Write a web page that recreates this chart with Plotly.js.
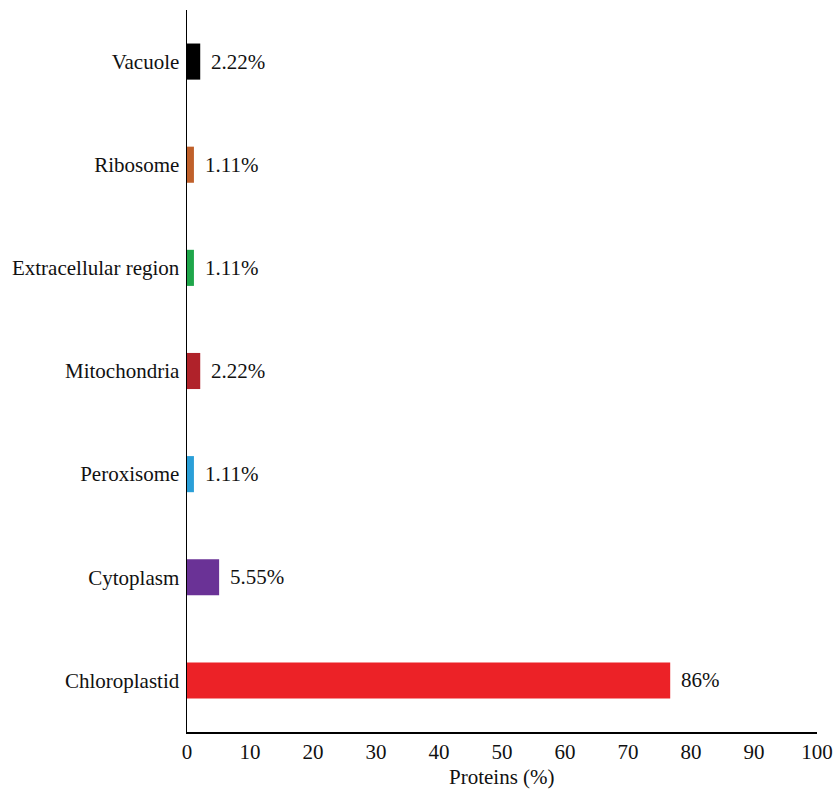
<!DOCTYPE html>
<html>
<head>
<meta charset="utf-8">
<script src="https://cdn.plot.ly/plotly-3.0.1.min.js"></script>
<style>html,body{margin:0;padding:0;background:#fff;}#chart{width:834px;height:792px;}</style>
</head>
<body>
<div id="chart"></div>
<script>
const categories = ["Chloroplastid", "Cytoplasm", "Peroxisome", "Mitochondria", "Extracellular region", "Ribosome", "Vacuole"];
const barValues = [76.7, 5.1, 1.1, 2.1, 1.1, 1.1, 2.1];
const labels = ["86%", "5.55%", "1.11%", "2.22%", "1.11%", "1.11%", "2.22%"];
const colors = ["#EC2227", "#6A3296", "#2A9FD8", "#B0222A", "#1FA64A", "#C0602A", "#000000"];
const xTicks = [0, 10, 20, 30, 40, 50, 60, 70, 80, 90, 100];
const xTitle = "Proteins (%)";

const font = {family: "Liberation Serif, Times New Roman, serif", size: 21, color: "#111"};

const trace = {
  type: "bar",
  orientation: "h",
  y: categories,
  x: barValues,
  marker: {color: colors, line: {width: 0}},
  width: 0.35,
  hoverinfo: "none"
};

const annotations = categories.map((c, i) => ({
  x: barValues[i], y: c, xref: "x", yref: "y",
  text: labels[i], showarrow: false, xanchor: "left", yanchor: "middle",
  xshift: 9, font: font
}));
annotations.push({
  x: 0.5, y: 0, xref: "paper", yref: "paper", yshift: -45,
  text: xTitle, showarrow: false, xanchor: "center", yanchor: "middle", font: font
});

const layout = {
  width: 834, height: 792,
  margin: {l: 187, r: 17, t: 10, b: 60},
  paper_bgcolor: "#fff", plot_bgcolor: "#fff",
  font: font,
  showlegend: false,
  xaxis: {
    range: [0, 100], tickvals: xTicks, ticktext: xTicks.map(String),
    showgrid: false, zeroline: false, showline: true, linecolor: "#000", linewidth: 1.5,
    ticks: "", ticklen: 0, ticklabelstandoff: 0,
    tickfont: font, automargin: false
  },
  yaxis: {
    type: "category", categoryorder: "array", categoryarray: categories,
    range: [-0.5, 6.5],
    showgrid: false, zeroline: false, showline: true, linecolor: "#000", linewidth: 1.5,
    ticks: "", ticklen: 0, ticklabelstandoff: 2,
    tickfont: font, automargin: false
  },
  annotations: annotations
};

Plotly.newPlot("chart", [trace], layout, {displayModeBar: false, staticPlot: true});
</script>
</body>
</html>
